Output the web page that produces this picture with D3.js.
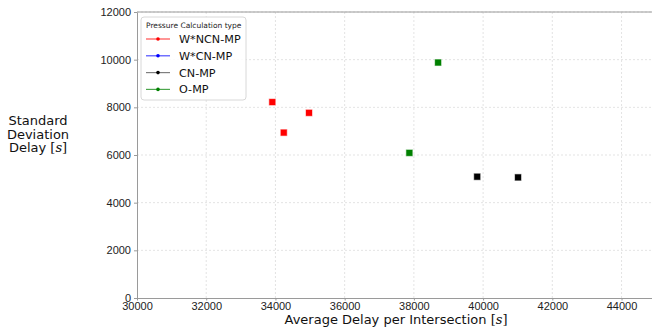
<!DOCTYPE html>
<html>
<head>
<meta charset="utf-8">
<script src="https://cdn.jsdelivr.net/npm/d3@7"></script>
<style>
  body { margin: 0; background: #fff; }
  svg { font-family: "DejaVu Sans", sans-serif; }
  .grid line { stroke: #dcdcdc; stroke-dasharray: 2,2; stroke-width: 0.8; }
  .axis path, .axis line { stroke: #9a9a9a; }
  .axis text { fill: #222; font-size: 11px; }
</style>
</head>
<body>
<div id="chart"></div>
<script>
//data
var seriesNames = ['W*NCN-MP', 'W*CN-MP', 'CN-MP', 'O-MP'];
var seriesColors = ['#ff0000', '#0000ff', '#000000', '#008000'];
var redX = [33910, 34970, 34240];
var redY = [8220, 7770, 6940];
var greenX = [38700, 37870];
var greenY = [9880, 6090];
var blackX = [39830, 41010];
var blackY = [5090, 5060];
var xTicks = [30000, 32000, 34000, 36000, 38000, 40000, 42000, 44000];
var yTicks = [0, 2000, 4000, 6000, 8000, 10000, 12000];

var points = [];
redX.forEach(function(d, i) { points.push({x: d, y: redY[i], c: seriesColors[0]}); });
greenX.forEach(function(d, i) { points.push({x: d, y: greenY[i], c: seriesColors[3]}); });
blackX.forEach(function(d, i) { points.push({x: d, y: blackY[i], c: seriesColors[2]}); });

//sizes
var outerW = 652, outerH = 329;
var margin = {left: 137, right: 0, top: 12, bottom: 31};
var w = outerW - margin.left - margin.right,
    h = outerH - margin.top - margin.bottom;

var xScale = d3.scaleLinear().range([0, w]).domain([30000, 44880]);
var yScale = d3.scaleLinear().range([h, 0]).domain([0, 12000]);

var svg = d3.select('#chart').append('svg')
    .attr('width', outerW)
    .attr('height', outerH);

var g = svg.append('g')
    .attr('transform', 'translate(' + margin.left + ',' + margin.top + ')');

//grid
var grid = g.append('g').attr('class', 'grid');
grid.selectAll('.gx')
    .data(xTicks.slice(1))
    .enter().append('line')
    .attr('x1', function(d) { return xScale(d); })
    .attr('x2', function(d) { return xScale(d); })
    .attr('y1', 0).attr('y2', h);
grid.selectAll('.gy')
    .data(yTicks.slice(1))
    .enter().append('line')
    .attr('y1', function(d) { return yScale(d); })
    .attr('y2', function(d) { return yScale(d); })
    .attr('x1', 0).attr('x2', w);

//top spine
g.append('line')
    .attr('x1', 0).attr('x2', w)
    .attr('y1', 0).attr('y2', 0)
    .attr('stroke', '#9a9a9a');

var xAxis = d3.axisBottom(xScale).tickValues(xTicks).tickSize(2.5).tickPadding(2).tickSizeOuter(0).tickFormat(d3.format('d'));
g.append('g')
    .attr('class', 'axis')
    .attr('transform', 'translate(0,' + h + ')')
    .call(xAxis);

var yAxis = d3.axisLeft(yScale).tickValues(yTicks).tickSize(3).tickSizeOuter(0).tickFormat(d3.format('d'));
g.append('g')
    .attr('class', 'axis')
    .call(yAxis);

//points
g.selectAll('.dot')
    .data(points)
    .enter().append('rect')
    .attr('class', 'dot')
    .attr('x', function(d) { return xScale(d.x) - 3.5; })
    .attr('y', function(d) { return yScale(d.y) - 3.5; })
    .attr('width', 7).attr('height', 7)
    .attr('fill', function(d) { return d.c; })
    .attr('stroke', 'rgba(255,255,255,0.6)')
    .attr('stroke-width', 1);

//legend
var leg = svg.append('g').attr('transform', 'translate(141,17)');
leg.append('rect')
    .attr('width', 105).attr('height', 83)
    .attr('rx', 3)
    .attr('fill', 'rgba(255,255,255,0.85)')
    .attr('stroke', '#d8d8d8');
leg.append('text')
    .attr('x', 5).attr('y', 11)
    .attr('font-size', 7.5)
    .attr('fill', '#222')
    .text('Pressure Calculation type');
var items = leg.selectAll('.item')
    .data(seriesNames)
    .enter().append('g')
    .attr('transform', function(d, i) { return 'translate(0,' + (22 + i * 16.8) + ')'; });
items.append('line')
    .attr('x1', 5).attr('x2', 29)
    .attr('stroke', function(d, i) { return seriesColors[i]; })
    .attr('stroke-opacity', function(d, i) { return i == 2 ? 0.5 : 0.7; })
    .attr('stroke-width', 1.2);
items.append('circle')
    .attr('cx', 17).attr('r', 1.8)
    .attr('fill', function(d, i) { return seriesColors[i]; });
items.append('text')
    .attr('x', 38).attr('y', 4)
    .attr('font-size', 11.2)
    .attr('fill', '#111')
    .text(function(d) { return d; });

//axis labels
var yl = svg.append('text')
    .attr('text-anchor', 'middle')
    .attr('font-size', 13)
    .attr('fill', '#111');
yl.append('tspan').attr('x', 38).attr('y', 125).text('Standard');
yl.append('tspan').attr('x', 38).attr('y', 138.5).text('Deviation');
yl.append('tspan').attr('x', 38).attr('y', 152).text('Delay ');
yl.append('tspan').attr('font-family', 'DejaVu Serif, serif').text('[');
yl.append('tspan').attr('font-family', 'DejaVu Serif, serif').attr('font-style', 'italic').text('s');
yl.append('tspan').attr('font-family', 'DejaVu Serif, serif').text(']');

var xl = svg.append('text')
    .attr('x', 396).attr('y', 324)
    .attr('text-anchor', 'middle')
    .attr('font-size', 13)
    .attr('fill', '#111');
xl.append('tspan').text('Average Delay per Intersection ');
xl.append('tspan').attr('font-family', 'DejaVu Serif, serif').text('[');
xl.append('tspan').attr('font-family', 'DejaVu Serif, serif').attr('font-style', 'italic').text('s');
xl.append('tspan').attr('font-family', 'DejaVu Serif, serif').text(']');
</script>
</body>
</html>
